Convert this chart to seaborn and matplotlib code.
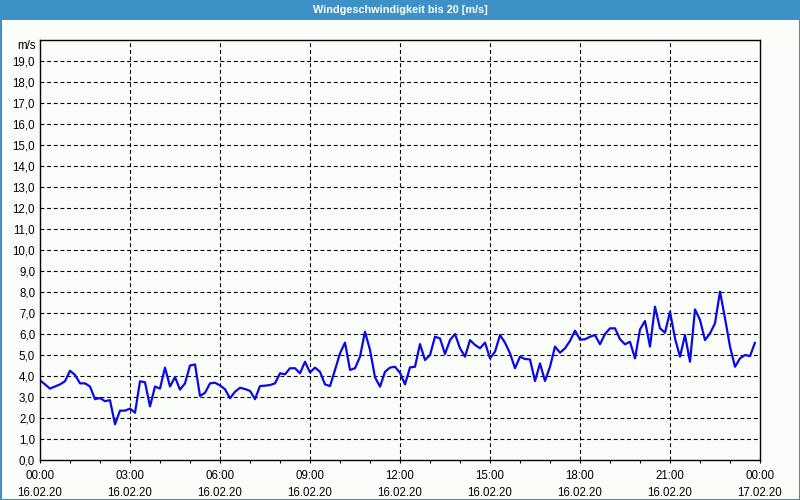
import matplotlib
matplotlib.use("Agg")
import matplotlib.pyplot as plt
from matplotlib.patches import Rectangle
from matplotlib.ticker import MultipleLocator, FixedLocator
import seaborn as sns
import pandas as pd
import numpy as np

# ---------------- data (10-minute steps, 16.02.20 00:00 .. 23:50) ----------------
speed = [
    3.8, 3.6, 3.4, 3.5, 3.6, 3.75, 4.25, 4.05, 3.65, 3.65, 3.5, 2.9,
    2.95, 2.8, 2.85, 1.7, 2.35, 2.35, 2.45, 2.25, 3.75, 3.7, 2.55, 3.5,
    3.4, 4.4, 3.5, 3.95, 3.35, 3.65, 4.5, 4.55, 3.05, 3.2, 3.65, 3.68,
    3.55, 3.37, 2.94, 3.25, 3.44, 3.38, 3.29, 2.9, 3.52, 3.54, 3.57, 3.65,
    4.13, 4.08, 4.37, 4.37, 4.13, 4.68, 4.17, 4.4, 4.2, 3.6, 3.52, 4.29,
    5.08, 5.59, 4.29, 4.37, 4.92, 6.11, 5.24, 3.94, 3.49, 4.2, 4.4, 4.44,
    4.15, 3.6, 4.41, 4.44, 5.52, 4.76, 5.0, 5.87, 5.79, 5.05, 5.71, 6.0,
    5.32, 4.92, 5.71, 5.48, 5.32, 5.59, 4.84, 5.16, 5.95, 5.59, 5.08, 4.37,
    4.92, 4.81, 4.79, 3.76, 4.6, 3.76, 4.44, 5.4, 5.11, 5.32, 5.67, 6.16,
    5.73, 5.75, 5.87, 5.95, 5.51, 6.0, 6.27, 6.27, 5.75, 5.51, 5.63, 4.84,
    6.22, 6.62, 5.4, 7.3, 6.27, 6.06, 7.06, 5.79, 4.92, 5.95, 4.68, 7.17,
    6.67, 5.71, 6.03, 6.51, 8.02, 6.75, 5.4, 4.44, 4.84, 5.0, 4.95, 5.59,
]
step_minutes = 10
hours = [i * step_minutes / 60 for i in range(len(speed))]

x_tick_hours = [0, 3, 6, 9, 12, 15, 18, 21, 24]
x_time_labels = ["00:00", "03:00", "06:00", "09:00", "12:00", "15:00", "18:00", "21:00", "00:00"]
x_date_labels = ["16.02.20"] * 8 + ["17.02.20"]
y_ticks = list(range(0, 20))
title = "Windgeschwindigkeit bis 20 [m/s]"
unit = "m/s"

df = pd.DataFrame({"hour": hours, "speed": speed})

# ---------------- style ----------------
sns.set_style("ticks")
plt.rcParams["font.family"] = ["Liberation Sans", "DejaVu Sans"]
plt.rcParams["font.size"] = 8

bg = "#fbfdfb"
blue_frame = "#3d91c6"

fig = plt.figure(figsize=(8, 5), dpi=100, facecolor=bg)
ax = fig.add_axes([40 / 800, 40 / 500, 720 / 800, 420 / 500])
ax.set_facecolor(bg)

sns.lineplot(data=df, x="hour", y="speed", ax=ax, color="#0a0ae6", linewidth=1.6)

ax.set_xlim(0, 24)
ax.set_ylim(0, 20)

ax.set_xticks(x_tick_hours)
ax.set_xticklabels([f"{t}\n{d}" for t, d in zip(x_time_labels, x_date_labels)],
                   linespacing=1.6)
ax.xaxis.set_minor_locator(MultipleLocator(1))
ax.set_yticks(y_ticks)
ax.set_yticklabels([f"{v:.1f}".replace(".", ",") for v in y_ticks])

ax.tick_params(axis="x", which="both", direction="out", length=2.5, width=0.8,
               color="black", pad=4.5, labelsize=8.3, labelcolor="black")
ax.tick_params(axis="y", which="both", length=0, pad=3.5, labelsize=8.3, labelcolor="black")

for s in ax.spines.values():
    s.set_visible(True)
    s.set_color("black")
    s.set_linewidth(1.0)

# dashed grid
for v in y_ticks[1:]:
    ax.axhline(v, color="black", linewidth=0.8, linestyle=(0, (3.5, 2.5)), zorder=0.5)
for h in x_tick_hours[1:-1]:
    ax.axvline(h, color="black", linewidth=0.8, linestyle=(0, (3.5, 2.5)), zorder=0.5)

ax.set_xlabel("")
ax.set_ylabel("")

# unit label
fig.text(36 / 800, 1 - 46 / 500, unit, ha="right", va="center", fontsize=8.3, color="black")

# title bar and frame
fig.patches.append(Rectangle((0, 1 - 20 / 500), 1, 20 / 500, transform=fig.transFigure,
                             facecolor=blue_frame, edgecolor="none", zorder=0))
fig.patches.append(Rectangle((0.5 / 800, 0.5 / 500), 799 / 800, 499 / 500, transform=fig.transFigure,
                             facecolor="none", edgecolor=blue_frame, linewidth=1.5, zorder=1))
fig.text(0.5, 1 - 10 / 500, title, ha="center", va="center", fontsize=7.8,
         fontweight="bold", color="white")

fig.savefig("out.png", dpi=100, facecolor=bg)
